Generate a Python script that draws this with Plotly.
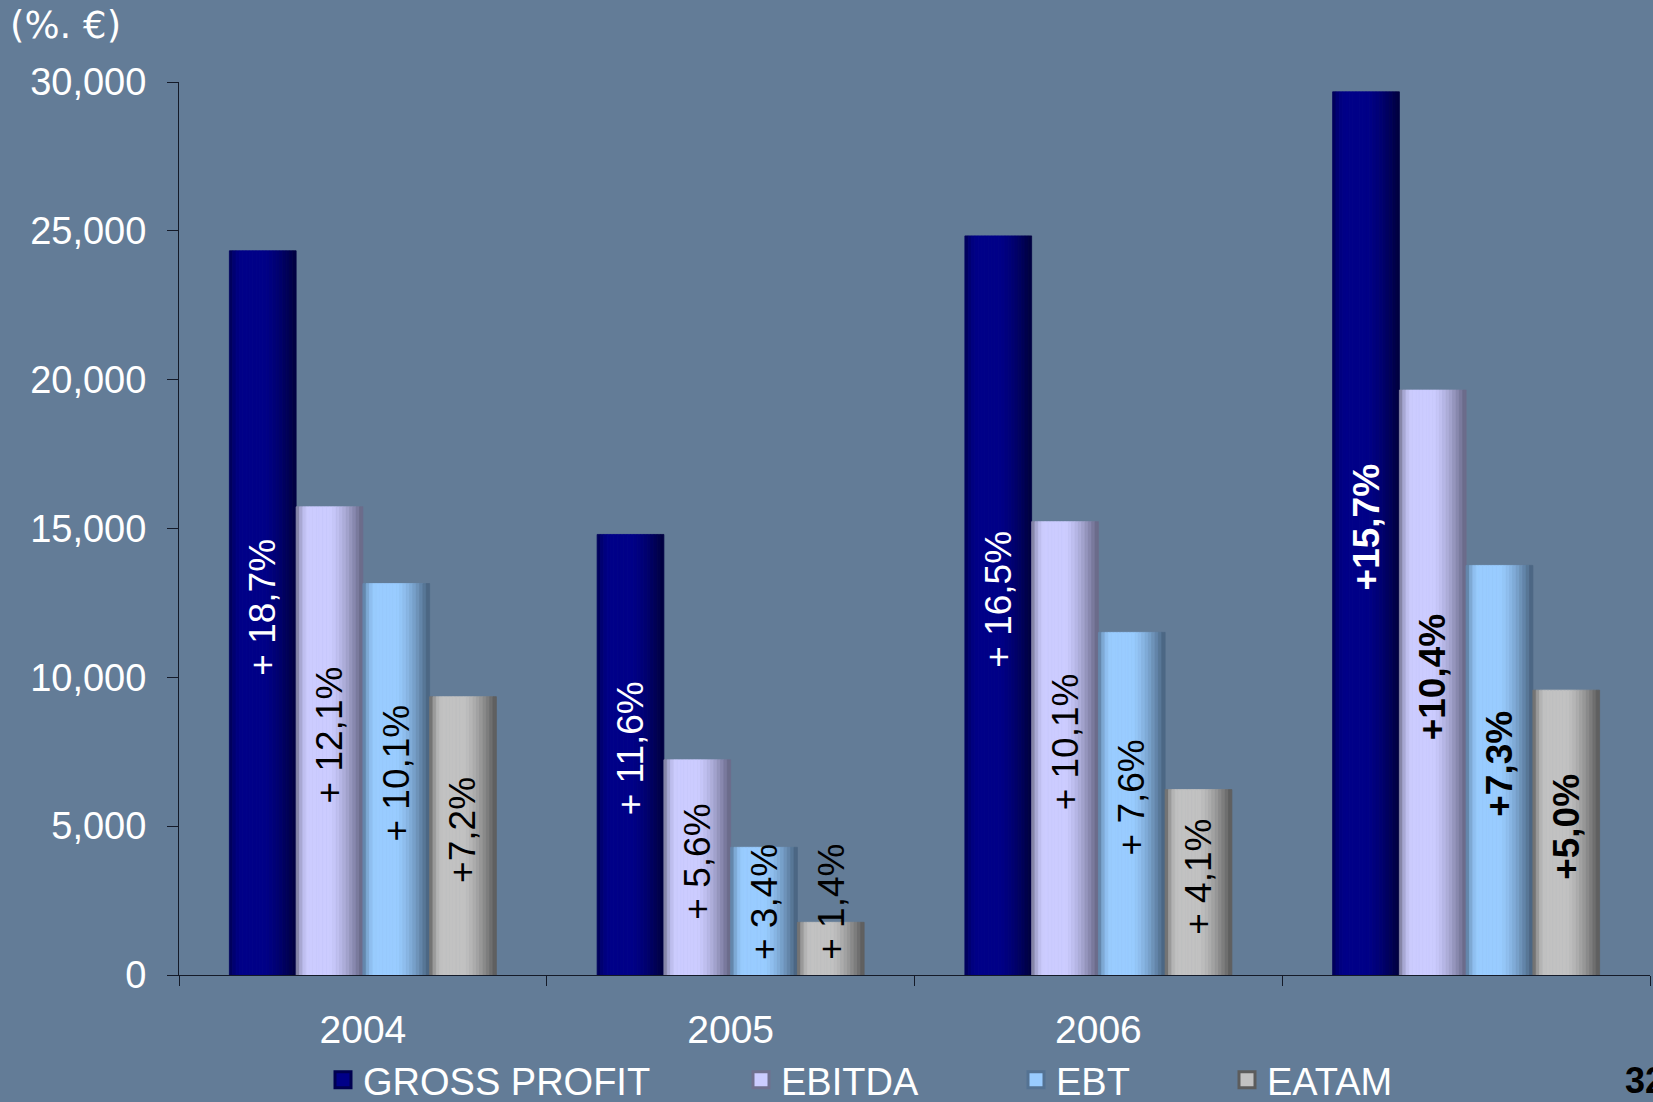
import plotly.graph_objects as go

# ---- data -------------------------------------------------------------
years = ["2004", "2005", "2006", " "]
series_names = ["GROSS PROFIT", "EBITDA", "EBT", "EATAM"]

gross_profit = [24330, 14800, 24830, 29670]
ebitda = [15730, 7230, 15230, 19650]
ebt = [13150, 4290, 11510, 13760]
eatam = [9350, 1770, 6230, 9570]

growth_gross_profit = ["+ 18,7%", "+ 11,6%", "+ 16,5%", "+15,7%"]
growth_ebitda = ["+ 12,1%", "+ 5,6%", "+ 10,1%", "+10,4%"]
growth_ebt = ["+ 10,1%", "+ 3,4%", "+ 7,6%", "+7,3%"]
growth_eatam = ["+7,2%", "+ 1,4%", "+ 4,1%", "+5,0%"]

y_ticks = [0, 5000, 10000, 15000, 20000, 25000, 30000]

# ---- styling ----------------------------------------------------------
BG = "rgb(99,124,151)"
AXIS = "rgb(20,26,40)"
FONT = "Liberation Sans"

# centre colour, left-edge colour, right-edge colour for the cylinder shading
shades = [
    ((0, 0, 136), (0, 0, 80), (0, 0, 60)),
    ((204, 204, 255), (112, 112, 142), (100, 100, 130)),
    ((153, 204, 255), (84, 114, 146), (70, 95, 122)),
    ((194, 194, 194), (92, 92, 92), (88, 88, 88)),
]
label_colors = ["white", "black", "black", "black"]

series_values = [gross_profit, ebitda, ebt, eatam]
series_labels = [growth_gross_profit, growth_ebitda, growth_ebt, growth_eatam]

W, H = 1653, 1102
M_L, M_R, M_T, M_B = 179, 3, 82, 127
PLOT_H = H - M_T - M_B

BAR_W = 0.1815            # one bar, in category units
GROUP_START = -2 * BAR_W  # left edge of the group relative to category centre
STRIPES = 20              # vertical slices used to fake the horizontal gradient


def stripe_color(centre, left, right, t):
    if t < 0.2:
        u = (0.2 - t) / 0.2
        f, edge = 1 - u * u, left
    elif t < 0.5:
        f, edge = 1.0, left
    else:
        u = (t - 0.5) / 0.5
        f, edge = 1 - u ** 1.5, right
    r, g, b = (round(e + (c - e) * f) for c, e in zip(centre, edge))
    return f"rgb({r},{g},{b})"


fig = go.Figure()

for s, values in enumerate(series_values):
    centre, left, right = shades[s]
    for i in range(STRIPES):
        t = (i + 0.5) / STRIPES
        col = stripe_color(centre, left, right, t)
        fig.add_trace(go.Bar(
            x=years, y=values,
            offset=GROUP_START + s * BAR_W + i * BAR_W / STRIPES,
            width=BAR_W / STRIPES,
            marker=dict(color=col, line=dict(color=col, width=0.8)),
            showlegend=False, hoverinfo="skip",
        ))

# legend entries (one legend per series so each sits at its own spot)
legend_x = [323, 741, 1016, 1227]
legend_ids = ["legend", "legend2", "legend3", "legend4"]
for s, name in enumerate(series_names):
    centre, left, right = shades[s]
    fig.add_trace(go.Scatter(
        x=[None], y=[None], mode="markers", name=name,
        marker=dict(symbol="square", size=16, color=f"rgb{centre}",
                    line=dict(color=f"rgb{left}", width=3)),
        legend=legend_ids[s], hoverinfo="skip",
    ))

legend_style = dict(
    orientation="h", xref="container", yref="container",
    xanchor="left", yanchor="middle",
    y=1 - 1080 / H, bgcolor="rgba(0,0,0,0)",
    font=dict(family=FONT, size=38, color="white"),
    itemclick=False, itemdoubleclick=False,
)
legends = {}
for s, lid in enumerate(legend_ids):
    legends[lid] = dict(legend_style, x=legend_x[s] / W)

# growth labels written vertically inside the bars
annotations = []
for s, (values, labels) in enumerate(zip(series_values, series_labels)):
    for k, (v, lab) in enumerate(zip(values, labels)):
        bold = k == len(years) - 1
        annotations.append(dict(
            x=k + GROUP_START + (s + 0.5) * BAR_W, xref="x",
            y=max(v / 2 + 200, 2450), yref="y",
            text=f"<b>{lab}</b>" if bold else lab,
            textangle=-90, showarrow=False,
            xanchor="center", yanchor="middle",
            font=dict(family=FONT, size=37, color=label_colors[s]),
        ))

# slide page number at the lower right edge
annotations.append(dict(
    x=(1623 - M_L) / (W - M_L - M_R), xref="paper",
    y=-(1080 - (H - M_B)) / PLOT_H, yref="paper",
    text="<b>32</b>", showarrow=False,
    xanchor="left", yanchor="middle",
    font=dict(family=FONT, size=36, color="black"),
))

fig.update_layout(
    template="none",
    width=W, height=H, autosize=False,
    margin=dict(l=M_L, r=M_R, t=M_T, b=M_B, pad=0),
    paper_bgcolor=BG, plot_bgcolor=BG,
    barmode="overlay",
    title=dict(text="(%. €)", x=10 / W, xanchor="left", xref="container",
               y=1 - 25 / H, yanchor="middle", yref="container",
               font=dict(family="DejaVu Sans", size=37, color="white")),
    annotations=annotations,
    **legends,
)

fig.update_xaxes(
    type="category", categoryorder="array", categoryarray=years,
    range=[-0.5, len(years) - 0.5],
    showline=True, linecolor=AXIS, linewidth=1,
    ticks="outside", tickson="boundaries", ticklen=10, tickcolor=AXIS, tickwidth=1,
    showgrid=False, zeroline=False, automargin=False,
    tickfont=dict(family=FONT, size=39, color="white"),
    ticklabelstandoff=20,
)
fig.update_yaxes(
    range=[0, 30000], tickvals=y_ticks,
    ticktext=[f"{v:,}" for v in y_ticks],
    showline=True, linecolor=AXIS, linewidth=1,
    ticks="outside", ticklen=11, tickcolor=AXIS, tickwidth=1,
    showgrid=False, zeroline=False, automargin=False,
    tickfont=dict(family=FONT, size=38, color="white"),
    ticklabelstandoff=13,
)

fig.write_html("out.html")
